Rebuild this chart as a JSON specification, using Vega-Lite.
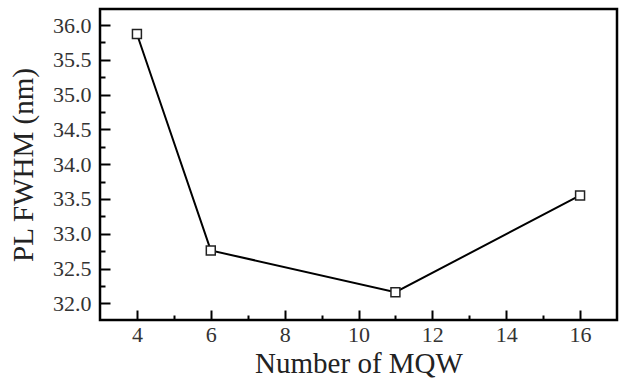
{
  "$schema": "https://vega.github.io/schema/vega-lite/v6.json",
  "width": 517,
  "height": 311,
  "autosize": "none",
  "padding": {"left": 100, "top": 9, "right": 4, "bottom": 60},
  "background": "white",
  "config": {
    "view": {"stroke": "black", "strokeWidth": 2.5},
    "font": "Liberation Serif"
  },
  "data": {
    "values": [
      {"mqw": 4, "fwhm": 35.87},
      {"mqw": 6, "fwhm": 32.76},
      {"mqw": 11, "fwhm": 32.16},
      {"mqw": 16, "fwhm": 33.55}
    ]
  },
  "encoding": {
    "x": {
      "field": "mqw",
      "type": "quantitative",
      "scale": {"domain": [3, 17], "nice": false, "zero": false},
      "axis": {
        "title": "Number of MQW",
        "domain": false,
        "grid": false,
        "tickColor": "black",
        "tickWidth": 2,
        "labelFont": "Liberation Serif",
        "labelFontSize": 22,
        "labelColor": "#333",
        "titleFont": "Liberation Serif",
        "titleFontSize": 29,
        "titleFontWeight": "normal",
        "titleColor": "#222",
        "values": [4, 5, 6, 7, 8, 9, 10, 11, 12, 13, 14, 15, 16],
        "labelExpr": "datum.value % 2 === 0 ? datum.label : ''",
        "tickSize": {"condition": {"test": "datum.value % 2 === 1", "value": -5}, "value": -10},
        "labelPadding": 14,
        "titlePadding": 4
      }
    },
    "y": {
      "field": "fwhm",
      "type": "quantitative",
      "scale": {"domain": [31.76, 36.23], "nice": false, "zero": false},
      "axis": {
        "title": "PL FWHM (nm)",
        "domain": false,
        "grid": false,
        "tickColor": "black",
        "tickWidth": 2,
        "labelFont": "Liberation Serif",
        "labelFontSize": 22,
        "labelColor": "#333",
        "titleFont": "Liberation Serif",
        "titleFontSize": 29,
        "titleFontWeight": "normal",
        "titleColor": "#222",
        "values": [32.0, 32.25, 32.5, 32.75, 33.0, 33.25, 33.5, 33.75, 34.0, 34.25, 34.5, 34.75, 35.0, 35.25, 35.5, 35.75, 36.0],
        "labelExpr": "(datum.value * 2) % 1 === 0 ? format(datum.value, '.1f') : ''",
        "tickSize": {"condition": {"test": "(datum.value * 2) % 1 !== 0", "value": -5}, "value": -10},
        "labelPadding": 19,
        "titlePadding": 14
      }
    }
  },
  "layer": [
    {
      "mark": {"type": "line", "color": "black", "strokeWidth": 2}
    },
    {
      "mark": {"type": "point", "shape": "square", "size": 80, "filled": true, "fill": "white", "stroke": "#222", "strokeWidth": 1.5, "opacity": 1}
    }
  ]
}
